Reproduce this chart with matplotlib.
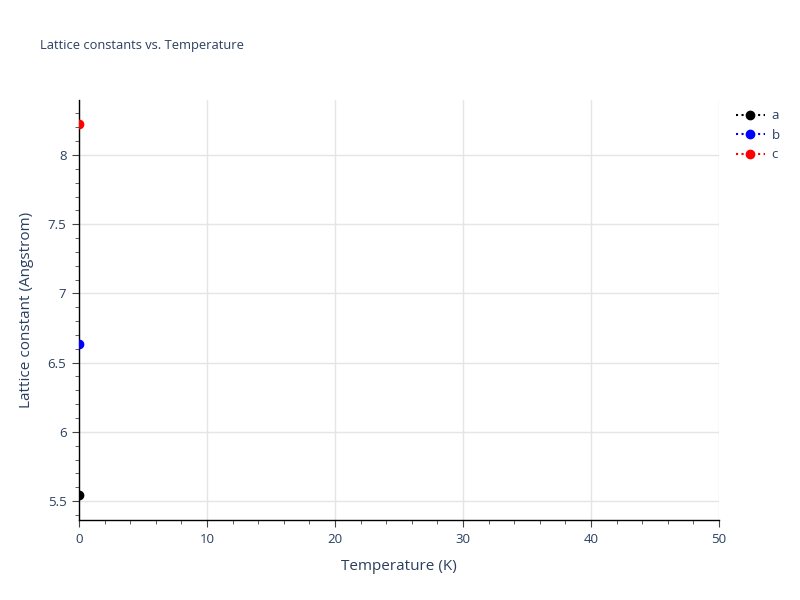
import matplotlib
matplotlib.use('Agg')
import matplotlib.pyplot as plt
from matplotlib.ticker import MultipleLocator

plt.rcParams['font.family'] = ['Open Sans', 'DejaVu Sans']

# data
temperature = [0]
lattice_a = [5.543]
lattice_b = [6.634]
lattice_c = [8.224]
series = [('a', lattice_a, 'black'), ('b', lattice_b, 'blue'), ('c', lattice_c, 'red')]

text_color = '#2a3f5f'

fig = plt.figure(figsize=(8, 6), dpi=100)
ax = fig.add_axes([0.09875, 0.1333, 0.8, 0.7])

for name, vals, col in series:
    ax.plot(temperature, vals, ':o', color=col, ms=6, lw=1.5, label=name,
            clip_on=True, zorder=5)

ax.set_xlim(0, 50)
ax.set_ylim(5.363, 8.397)
ax.xaxis.set_major_locator(MultipleLocator(10))
ax.xaxis.set_minor_locator(MultipleLocator(2))
ax.yaxis.set_major_locator(MultipleLocator(0.5))
ax.yaxis.set_minor_locator(MultipleLocator(0.1))
ax.yaxis.set_major_formatter(matplotlib.ticker.FuncFormatter(lambda v, p: f'{v:g}'))

ax.grid(True, which='major', color='#e5e5e5', lw=1)
ax.set_axisbelow(True)
for s in ('top', 'right'):
    ax.spines[s].set_visible(False)
for s in ('left', 'bottom'):
    ax.spines[s].set_color('black')
    ax.spines[s].set_linewidth(1)

ax.tick_params(which='major', direction='out', length=5, color='#444444',
               labelsize=9.5, labelcolor=text_color, pad=4)
ax.tick_params(which='minor', direction='out', length=3, color='#444444')

ax.set_xlabel('Temperature (K)', fontsize=11, color=text_color, labelpad=10)
ax.set_ylabel('Lattice constant (Angstrom)', fontsize=11, color=text_color, labelpad=10)

fig.text(0.05, 0.925, 'Lattice constants vs. Temperature', fontsize=9.3,
         color=text_color, va='center', ha='left')

leg = ax.legend(loc='upper left', bbox_to_anchor=(1.012, 1.0), frameon=False,
                fontsize=9.5, handlelength=2.2, labelspacing=0.5,
                borderaxespad=0.3, handletextpad=0.5)
for t in leg.get_texts():
    t.set_color(text_color)

fig.savefig('out.png', dpi=100)
